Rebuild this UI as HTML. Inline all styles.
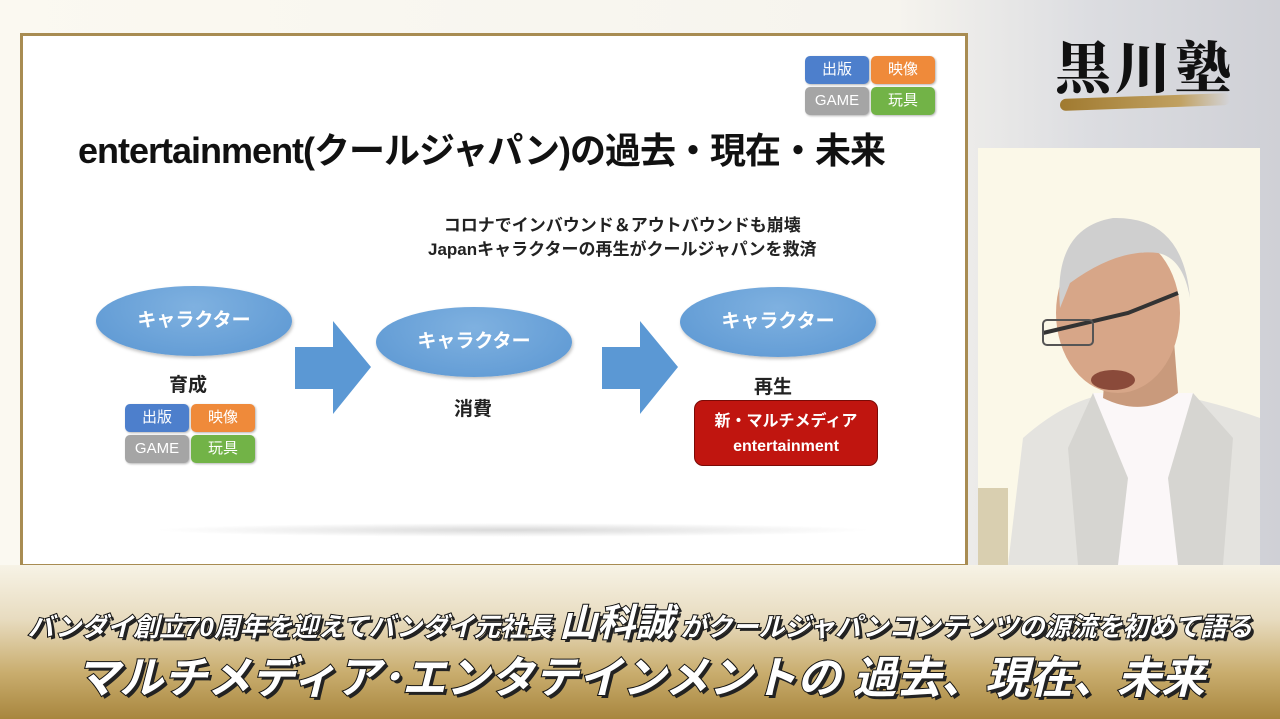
<!DOCTYPE html>
<html><head><meta charset="utf-8"><style>
body{margin:0;width:1280px;height:719px;overflow:hidden;position:relative;font-family:"Liberation Sans","Noto Sans CJK JP",sans-serif;background:linear-gradient(90deg,#fbf9f1 0%,#f6f4ee 70%,#dcdde1 85%,#cfd0d6 100%);}
.abs{position:absolute}
.slide{left:20px;top:33px;width:942px;height:528px;border:3px solid #a88c52;background:#fff;}
.ell{position:absolute;width:196px;height:70px;border-radius:50%;background:radial-gradient(ellipse at 50% 30%,#7fb1e0,#5a96d2);color:#fff;font-weight:bold;font-size:19px;text-align:center;line-height:70px;box-shadow:1px 2px 3px rgba(0,0,0,.25)}
.lbl{position:absolute;font-size:19px;color:#222;font-weight:bold}
.tag{position:absolute;width:64px;height:28px;border-radius:5px;color:#fff;font-size:15px;text-align:center;line-height:28px;box-shadow:1px 1px 2px rgba(0,0,0,.3)}
.bl{background:#4d7fcc}.or{background:#ef8a3a}.gr{background:#a5a5a5}.gn{background:#72b347}
.banner{left:0;top:565px;width:1280px;height:154px;background:linear-gradient(180deg,#f7f3e6 0%,#e8dcc0 35%,#c9ad6e 70%,#a8863e 100%)}
.bt{position:absolute;left:0;width:1280px;text-align:center;color:#fff;font-weight:bold;font-style:italic;-webkit-text-stroke:2px #111;paint-order:stroke fill;text-shadow:3px 3px 0 #222}
</style></head><body>
<div class="abs slide">
  <div class="abs" style="left:55px;top:86px;font-size:36px;font-weight:bold;color:#111;letter-spacing:-1px">entertainment(クールジャパン)の過去・現在・未来</div>
  <div class="abs" style="left:405px;top:178px;font-size:17px;font-weight:bold;color:#222;line-height:24px;text-align:center">コロナでインバウンド＆アウトバウンドも崩壊<br>Japanキャラクターの再生がクールジャパンを救済</div>
  <div class="tag bl" style="left:782px;top:20px">出版</div><div class="tag or" style="left:848px;top:20px">映像</div>
  <div class="tag gr" style="left:782px;top:51px">GAME</div><div class="tag gn" style="left:848px;top:51px">玩具</div>
  <div class="ell" style="left:73px;top:250px">キャラクター</div>
  <div class="ell" style="left:353px;top:271px">キャラクター</div>
  <div class="ell" style="left:657px;top:251px">キャラクター</div>
  <svg class="abs" style="left:270px;top:283px" width="80" height="100"><polygon points="2,28 40,28 40,2 78,48 40,95 40,70 2,70" fill="#5b98d4"/></svg>
  <svg class="abs" style="left:577px;top:283px" width="80" height="100"><polygon points="2,28 40,28 40,2 78,48 40,95 40,70 2,70" fill="#5b98d4"/></svg>
  <div class="lbl" style="left:146px;top:334px">育成</div>
  <div class="lbl" style="left:431px;top:358px">消費</div>
  <div class="lbl" style="left:731px;top:336px">再生</div>
  <div class="tag bl" style="left:102px;top:368px">出版</div><div class="tag or" style="left:168px;top:368px">映像</div>
  <div class="tag gr" style="left:102px;top:399px">GAME</div><div class="tag gn" style="left:168px;top:399px">玩具</div>
  <div class="abs" style="left:671px;top:364px;width:184px;height:66px;border-radius:9px;background:#c0150f;border:1px solid #7a0a06;color:#fff;font-weight:bold;font-size:16px;text-align:center;line-height:25px;padding-top:8px;box-sizing:border-box">新・マルチメディア<br>entertainment</div>
  <div class="abs" style="left:130px;top:487px;width:720px;height:14px;border-radius:50%;background:radial-gradient(ellipse,#d8d8d8,#fff 70%)"></div>
</div>
<div class="abs" style="left:1055px;top:25px;font-family:'Noto Serif CJK SC',serif;font-weight:900;font-size:56px;color:#111;letter-spacing:4px">黒川塾</div>
<div class="abs" style="left:1060px;top:96px;width:170px;height:12px;background:linear-gradient(90deg,#a07a30,#c0a060 70%,rgba(200,180,140,0));transform:skewY(-2deg);border-radius:6px"></div>
<svg class="abs" style="left:978px;top:148px" width="282" height="417">
  <rect width="282" height="417" fill="#fbf8e8"/>
  <rect x="0" y="340" width="30" height="77" fill="#d9cfb0"/>
  <path d="M30,417 L45,290 Q90,250 135,245 L190,245 Q240,255 282,270 L282,417Z" fill="#e4e3df"/>
  <path d="M115,245 L140,417 L200,417 L215,245Z" fill="#fbf7f8"/>
  <path d="M115,245 L150,330 L140,417 L100,417 L90,300Z" fill="#d6d5d1"/>
  <path d="M215,245 L190,330 L200,417 L245,417 L255,290Z" fill="#d6d5d1"/>
  <path d="M130,185 L125,250 Q165,270 200,245 L195,180Z" fill="#c99a7c"/>
  <ellipse cx="140" cy="165" rx="62" ry="80" fill="#d7a688"/>
  <path d="M82,160 Q75,80 135,70 Q205,68 212,150 Q205,110 180,105 Q140,100 92,135Z" fill="#cfcfcf"/>
  <path d="M65,185 L150,165 L200,145" stroke="#333" stroke-width="4" fill="none"/>
  <rect x="65" y="172" width="50" height="25" rx="4" fill="none" stroke="#555" stroke-width="2"/>
  <ellipse cx="135" cy="232" rx="22" ry="10" fill="#8a4a3a"/>
</svg>
<div class="abs banner"></div>
<div class="bt" style="top:592px;font-size:26px">バンダイ創立70周年を迎えてバンダイ元社長 <span style="font-size:38px">山科誠</span> がクールジャパンコンテンツの源流を初めて語る</div>
<div class="bt" style="top:642px;font-size:44px">マルチメディア･エンタテインメントの 過去、現在、未来</div>
</body></html>
